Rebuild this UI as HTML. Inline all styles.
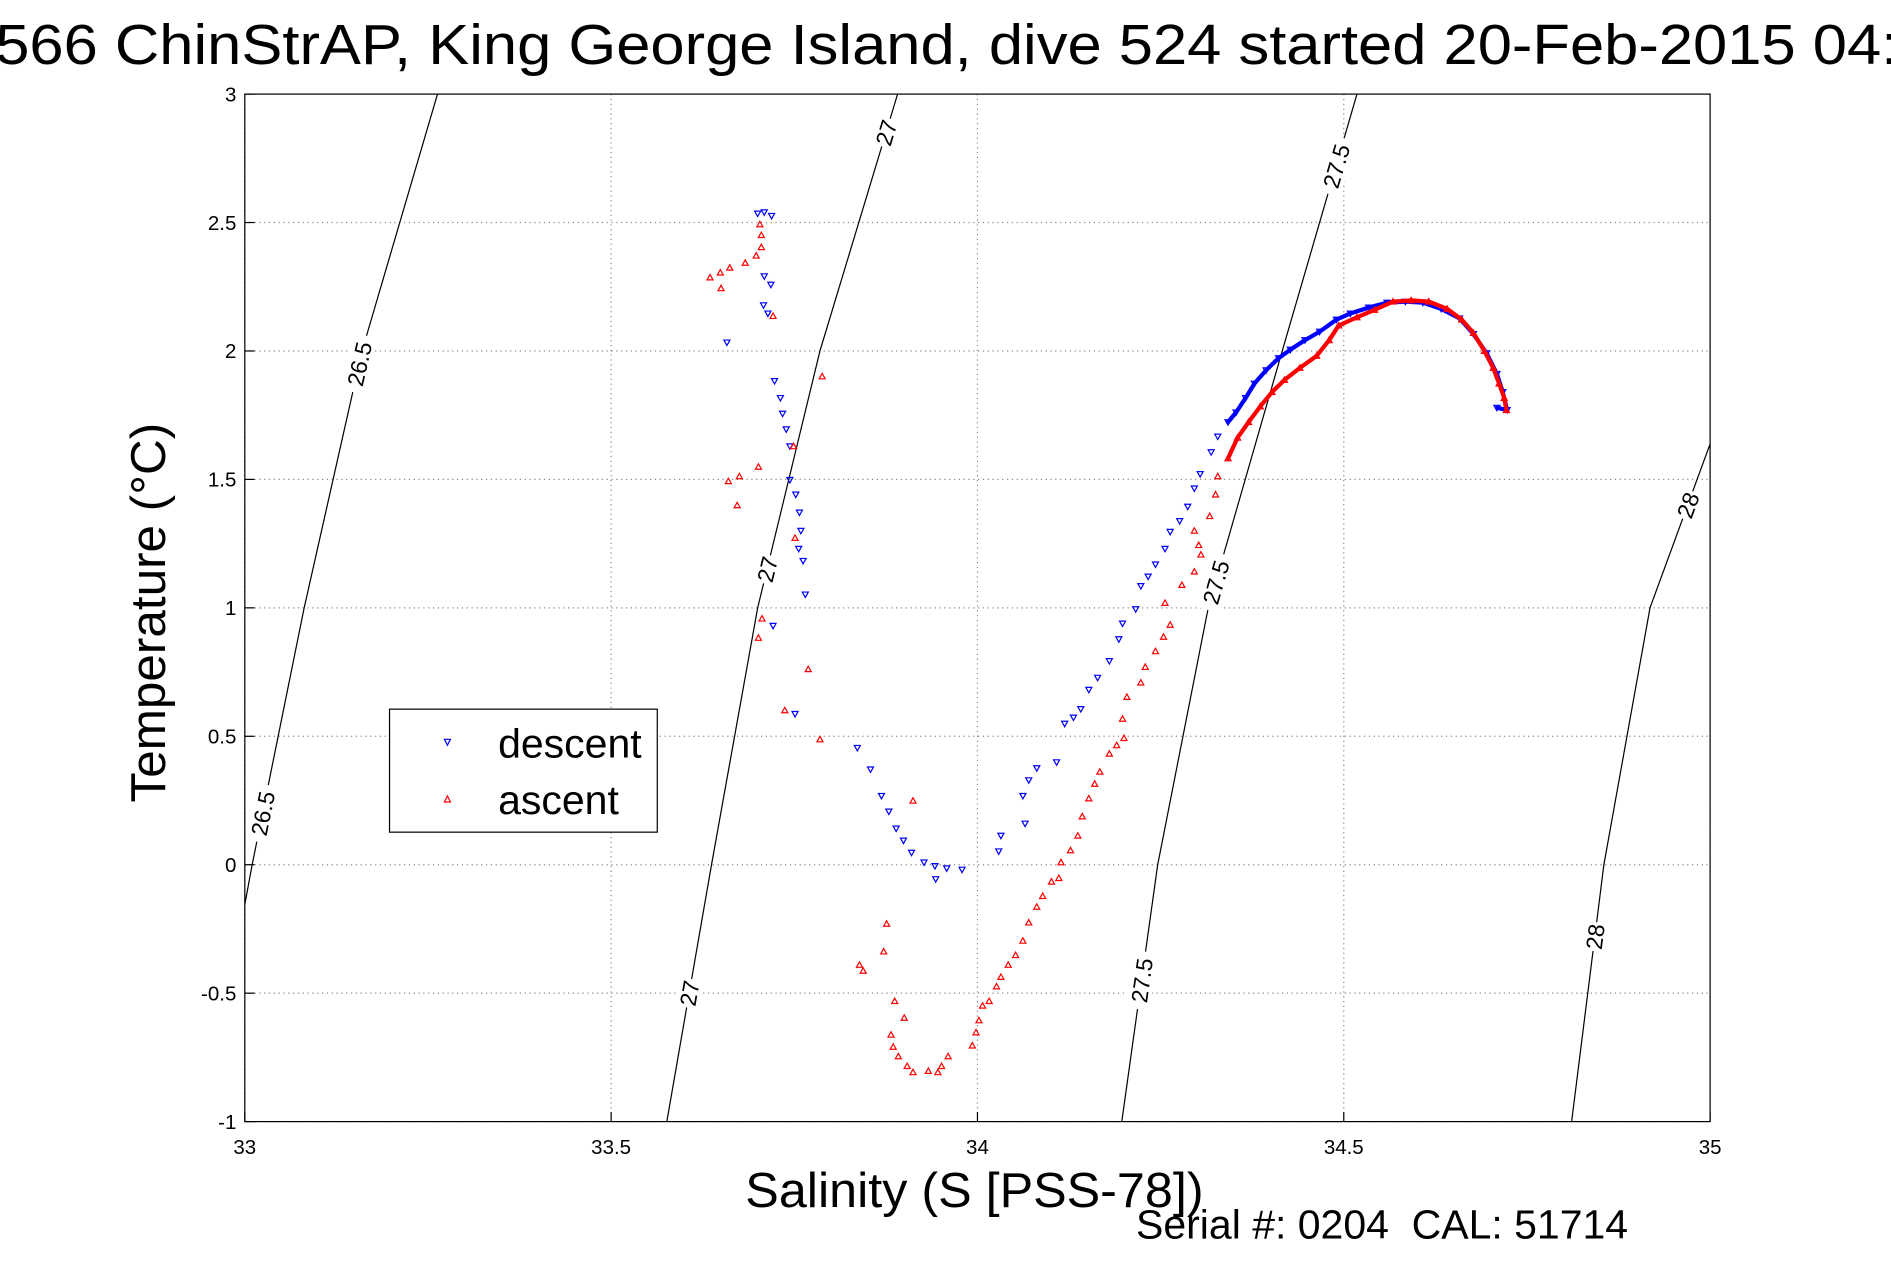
<!DOCTYPE html>
<html><head><meta charset="utf-8"><style>
html,body{margin:0;padding:0;background:#fff;}
svg{display:block;font-family:"Liberation Sans",sans-serif;}
</style></head><body>
<svg id="chart" width="1891" height="1262" viewBox="0 0 1568 1046.4" xmlns="http://www.w3.org/2000/svg">
<rect width="1568" height="1046.4" fill="#fff"/>
<text x="-4" y="53" font-size="47" textLength="1578" lengthAdjust="spacingAndGlyphs">566 ChinStrAP, King George Island, dive 524 started 20-Feb-2015 04:</text>
<g id="grid"></g>
<g id="contours"></g>
<g id="series"></g>
<rect x="203" y="78" width="1215" height="852" fill="none" stroke="#000" stroke-width="1"/>
<g id="ticks" font-size="17"></g>
<text x="618" y="1001" font-size="41" textLength="380" lengthAdjust="spacingAndGlyphs">Salinity (S [PSS-78])</text>
<text transform="translate(137,508) rotate(-90)" font-size="41" text-anchor="middle">Temperature (°C)</text>
<text x="942" y="1027" font-size="34" textLength="408" lengthAdjust="spacingAndGlyphs" xml:space="preserve">Serial #: 0204  CAL: 51714</text>
<g>
<rect x="323" y="588" width="222" height="102" fill="#fff" stroke="#000" stroke-width="1"/>
<path d="M368.5,613 L373.5,613 L371,618 Z" fill="none" stroke="#00f" stroke-width="1"/>
<text x="413" y="628" font-size="34">descent</text>
<path d="M368.5,665 L373.5,665 L371,660 Z" fill="none" stroke="#f00" stroke-width="1"/>
<text x="413" y="675" font-size="34">ascent</text>
</g>
</svg>
<script>
const xTicks=[33,33.5,34,34.5,35];
const yTicks=[-1,-0.5,0,0.5,1,1.5,2,2.5,3];
const xTickLabels=["33","33.5","34","34.5","35"];
const yTickLabels=["-1","-0.5","0","0.5","1","1.5","2","2.5","3"];
const descentS=[33.700,33.709,33.719,33.709,33.718,33.708,33.714,33.658,33.723,33.731,33.734,33.739,33.744,33.744,33.752,33.757,33.759,33.756,33.762,33.765,33.721,33.751,33.836,33.854,33.869,33.879,33.889,33.899,33.910,33.927,33.942,33.958,33.979,33.943,34.029,34.032,34.065,34.062,34.070,34.081,34.108,34.119,34.131,34.141,34.152,34.164,34.180,34.193,34.198,34.216,34.223,34.233,34.243,34.256,34.263,34.276,34.287,34.296,34.304,34.319,34.328,34.342,34.353,34.366,34.378,34.394,34.411,34.427,34.447,34.467,34.490,34.509,34.534,34.559,34.584,34.608,34.633,34.658,34.677,34.695,34.709,34.717,34.723,34.709];
const descentT=[2.535,2.540,2.526,2.291,2.258,2.178,2.146,2.033,1.883,1.817,1.756,1.695,1.629,1.498,1.441,1.371,1.300,1.230,1.183,1.052,0.930,0.587,0.455,0.371,0.268,0.207,0.141,0.094,0.047,0.009,-0.005,-0.014,-0.019,-0.056,0.052,0.113,0.160,0.268,0.329,0.376,0.399,0.549,0.573,0.606,0.681,0.728,0.793,0.878,0.939,0.995,1.085,1.122,1.169,1.230,1.296,1.338,1.394,1.465,1.521,1.606,1.667,1.723,1.761,1.817,1.873,1.925,1.972,2.005,2.042,2.075,2.122,2.146,2.169,2.188,2.192,2.188,2.164,2.127,2.066,1.991,1.911,1.840,1.770,1.779];
const ascentS=[33.703,33.705,33.705,33.698,33.683,33.662,33.649,33.635,33.650,33.721,33.788,33.749,33.701,33.675,33.660,33.672,33.751,33.706,33.701,33.769,33.737,33.785,33.912,33.876,33.872,33.839,33.844,33.887,33.900,33.882,33.885,33.892,33.904,33.912,33.933,33.946,33.951,33.960,33.993,33.998,34.002,34.007,34.016,34.026,34.032,34.042,34.052,34.062,34.070,34.081,34.089,34.101,34.111,34.114,34.127,34.137,34.143,34.152,34.160,34.167,34.180,34.190,34.200,34.198,34.204,34.223,34.229,34.243,34.254,34.263,34.256,34.279,34.296,34.305,34.302,34.296,34.317,34.325,34.328,34.342,34.355,34.370,34.386,34.402,34.419,34.440,34.463,34.480,34.493,34.518,34.542,34.567,34.592,34.616,34.641,34.661,34.677,34.692,34.704,34.712,34.719,34.722];
const ascentT=[2.493,2.451,2.404,2.371,2.343,2.324,2.305,2.286,2.244,2.136,1.901,1.629,1.549,1.512,1.493,1.399,1.272,0.958,0.883,0.761,0.601,0.488,0.249,-0.230,-0.338,-0.390,-0.413,-0.531,-0.596,-0.662,-0.709,-0.746,-0.784,-0.808,-0.803,-0.808,-0.784,-0.746,-0.704,-0.653,-0.606,-0.549,-0.531,-0.474,-0.437,-0.390,-0.352,-0.296,-0.225,-0.164,-0.122,-0.066,-0.052,0.009,0.056,0.113,0.188,0.258,0.315,0.362,0.432,0.465,0.493,0.568,0.653,0.709,0.770,0.831,0.887,0.934,1.019,1.089,1.141,1.207,1.244,1.300,1.357,1.441,1.512,1.582,1.662,1.723,1.784,1.840,1.887,1.934,1.981,2.042,2.099,2.131,2.160,2.192,2.197,2.192,2.164,2.122,2.070,2.000,1.934,1.873,1.817,1.770];
const contourLevels=["26.5","27","27.5","28"];
const contourS=[[33.0,33.010,33.081,33.160,33.263],[33.576,33.637,33.700,33.785,33.891],[34.197,34.246,34.315,34.416,34.518],[34.811,34.855,34.918,35.0]];
const contourT=[[-0.155,0,1,2,3],[-1,0,1,2,3],[-1,0,1,2,3],[-1,0,1,1.638]];
const contourLabelT=[[0.2,1.95],[-0.5,1.15,2.85],[-0.45,1.1,2.72],[-0.28,1.4]];

const NS='http://www.w3.org/2000/svg';
const X0=203,X1=1418,Y0=930,Y1=78;
function sx(s){return X0+(s-33)/(35-33)*(X1-X0);}
function ty(t){return Y0-(t+1)/(3+1)*(Y0-Y1);}
function mk(tag,attrs,parent){const e=document.createElementNS(NS,tag);for(const k in attrs)e.setAttribute(k,attrs[k]);parent.appendChild(e);return e;}
const grid=document.getElementById('grid'),ticks=document.getElementById('ticks');
xTicks.forEach((v,i)=>{
  const g=mk('line',{x1:sx(v),x2:sx(v),y1:Y1,y2:Y0,stroke:'#888','stroke-width':1,'stroke-dasharray':'1,3'},grid);
  
  
  const t=mk('text',{x:sx(v),y:957,'text-anchor':'middle'},ticks);t.textContent=xTickLabels[i];
  
  
  mk('line',{x1:sx(v),x2:sx(v),y1:Y0,y2:Y0-8,stroke:'#000'},ticks);
});
yTicks.forEach((v,i)=>{
  const g=mk('line',{x1:X0,x2:X1,y1:ty(v),y2:ty(v),stroke:'#888','stroke-width':1,'stroke-dasharray':'1,3'},grid);
  
  
  const t=mk('text',{x:196,y:ty(v)+6,'text-anchor':'end'},ticks);t.textContent=yTickLabels[i];
  
  
  mk('line',{x1:X0,x2:X0+8,y1:ty(v),y2:ty(v),stroke:'#000'},ticks);
});
const cg=document.getElementById('contours');
contourLevels.forEach((lv,i)=>{
  const pts=contourS[i].map((s,j)=>sx(s)+','+ty(contourT[i][j])).join(' ');
  const p=mk('polyline',{points:pts,fill:'none',stroke:'#000','stroke-width':1},cg);
  
  
  contourLabelT[i].forEach(lt=>{
    const S=contourS[i],T=contourT[i];let k=0;
    while(k<T.length-2&&lt>T[k+1])k++;
    const f=(lt-T[k])/(T[k+1]-T[k]);const s=S[k]+f*(S[k+1]-S[k]);
    const x=sx(s),y=ty(lt);
    const ang=Math.atan2(ty(T[k+1])-ty(T[k]),sx(S[k+1])-sx(S[k]))*180/Math.PI;
    const g=mk('g',{transform:`translate(${x},${y}) rotate(${ang})`},cg);
    mk('rect',{x:-lv.length*6,y:-10,width:lv.length*12,height:20,fill:'#fff'},g);
    const t=mk('text',{x:0,y:7,'text-anchor':'middle','font-size':19},g);t.textContent=lv;
    
    
  });
});
const sg=document.getElementById('series');
function drawSeries(S,T,color,down,name){
  const g=mk('g',{},sg);
  
  
  for(let i=1;i<S.length;i++){
    if(S[i]>34.33&&S[i-1]>34.33){
      mk('line',{x1:sx(S[i-1]),y1:ty(T[i-1]),x2:sx(S[i]),y2:ty(T[i]),stroke:color,'stroke-width':3.5,'stroke-linecap':'round'},g);
    }
  }
  S.forEach((s,i)=>{
    const x=sx(s),y=ty(T[i]);
    const d=down?`M${x-2.5},${y-2} L${x+2.5},${y-2} L${x},${y+2.5} Z`:`M${x-2.5},${y+2} L${x+2.5},${y+2} L${x},${y-2.5} Z`;
    const p=mk('path',{d:d,fill:'none',stroke:color,'stroke-width':1},g);
    
    
  });
}
drawSeries(descentS,descentT,'#00f',true,'descent-series');
drawSeries(ascentS,ascentT,'#f00',false,'ascent-series');
</script>
</body></html>
